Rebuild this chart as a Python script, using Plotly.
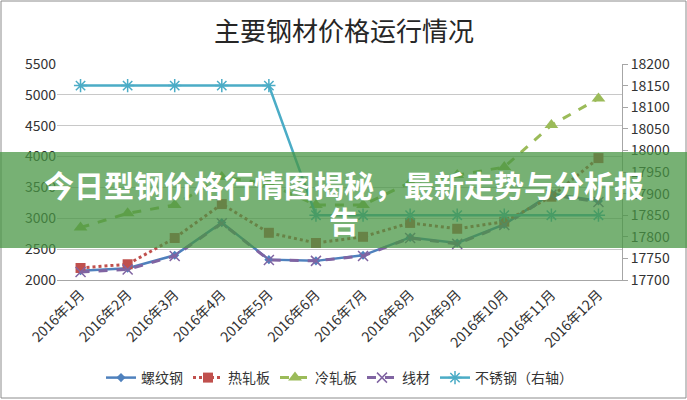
import plotly.graph_objects as go

months = ["2016年1月", "2016年2月", "2016年3月", "2016年4月", "2016年5月", "2016年6月",
          "2016年7月", "2016年8月", "2016年9月", "2016年10月", "2016年11月", "2016年12月"]
rebar = [2150, 2190, 2400, 2930, 2330, 2310, 2400, 2690, 2600, 2900, 3400, 3280]
hot_rolled = [2195, 2255, 2680, 3230, 2765, 2600, 2700, 2925, 2830, 2945, 3350, 3975]
cold_rolled = [2850, 3080, 3215, 3670, 3560, 3215, 3215, 3580, 3700, 3830, 4510, 4940]
wire = [2130, 2170, 2390, 2920, 2325, 2310, 2390, 2680, 2585, 2890, 3380, 3265]
stainless = [18150, 18150, 18150, 18150, 18150, 17850, 17850, 17850, 17850, 17850, 17850, 17850]

FONT = "Noto Sans CJK SC"
W, H = 687, 400
L, R, T, B = 57, 65, 64, 120
pw = W - L - R
ph = H - T - B

def px_x(x):
    return (x - L) / pw

def px_y(y):
    return (H - B - y) / ph

fig = go.Figure()
fig.add_trace(go.Scatter(x=months, y=rebar, name="螺纹钢", mode="lines+markers",
                         line=dict(color="#4F81BD", width=2.5),
                         marker=dict(symbol="diamond", size=7, color="#4F81BD")))
fig.add_trace(go.Scatter(x=months, y=hot_rolled, name="热轧板", mode="lines+markers",
                         line=dict(color="#C0504D", width=3, dash="dot"),
                         marker=dict(symbol="square", size=10, color="#C0504D")))
fig.add_trace(go.Scatter(x=months, y=cold_rolled, name="冷轧板", mode="lines+markers",
                         line=dict(color="#9BBB59", width=3, dash="dash"),
                         marker=dict(symbol="triangle-up", size=12, color="#9BBB59")))
fig.add_trace(go.Scatter(x=months, y=wire, name="线材", mode="lines+markers",
                         line=dict(color="#8064A2", width=3, dash="dash"),
                         marker=dict(symbol="x-thin-open", size=10, color="#8064A2",
                                     line=dict(width=1.5, color="#8064A2"))))
fig.add_trace(go.Scatter(x=months, y=stainless, name="不锈钢（右轴）", mode="lines+markers",
                         yaxis="y2",
                         line=dict(color="#4BACC6", width=2.5),
                         marker=dict(symbol="asterisk-open", size=11, color="#4BACC6",
                                     line=dict(width=1.5, color="#4BACC6"))))

shapes = [
    # outer border
    dict(type="rect", xref="paper", yref="paper",
         x0=px_x(1), x1=px_x(686), y0=px_y(398), y1=px_y(1),
         line=dict(color="#8c8c8c", width=1), fillcolor="rgba(0,0,0,0)", layer="below"),
    # banner
    dict(type="rect", xref="paper", yref="paper",
         x0=px_x(-2), x1=px_x(690), y0=px_y(248), y1=px_y(152),
         line=dict(width=0), fillcolor="rgba(72,150,68,0.74)", layer="above"),
]

annotations = [
    dict(text="主要钢材价格运行情况", xref="paper", yref="paper",
         x=px_x(344), y=px_y(30), xanchor="center", yanchor="middle", showarrow=False,
         font=dict(family=FONT, size=26, color="#262626")),
    dict(text="<b>今日型钢价格行情图揭秘，最新走势与分析报</b>", xref="paper", yref="paper",
         x=px_x(344), y=px_y(184), xanchor="center", yanchor="middle", showarrow=False,
         font=dict(family=FONT, size=30, color="white")),
    dict(text="<b>告</b>", xref="paper", yref="paper",
         x=px_x(344), y=px_y(220), xanchor="center", yanchor="middle", showarrow=False,
         font=dict(family=FONT, size=30, color="white")),
]

fig.update_layout(
    width=W, height=H,
    margin=dict(l=L, r=R, t=T, b=B, autoexpand=False),
    paper_bgcolor="white", plot_bgcolor="white",
    font=dict(family=FONT, size=12, color="#333333"),
    showlegend=True,
    legend=dict(orientation="h", x=0.5, xanchor="center", yref="container",
                y=1 - 378 / H, yanchor="middle",
                font=dict(family=FONT, size=14, color="#333333"),
                traceorder="normal"),
    xaxis=dict(type="category", tickangle=-45, showgrid=False, showline=True,
               linecolor="#a6a6a6", linewidth=1, ticks="", automargin=False,
               tickfont=dict(size=14, color="#333333"),
               range=[-0.5, 11.5]),
    yaxis=dict(range=[2000, 5500], dtick=500, showgrid=True, gridcolor="#c8c8c8",
               showline=False, ticks="", zeroline=False, automargin=False,
               tickfont=dict(size=14, color="#333333")),
    yaxis2=dict(range=[17700, 18200], dtick=50, overlaying="y", side="right",
                showgrid=False, showline=True, linecolor="#a6a6a6", ticks="outside",
                ticklen=5, tickcolor="#a6a6a6", zeroline=False, automargin=False,
                tickformat="d",
                tickfont=dict(size=14, color="#333333")),
    shapes=shapes,
    annotations=annotations,
)

fig.write_html("out.html", config={"displayModeBar": False},
               post_script="document.body.style.margin='0';")
